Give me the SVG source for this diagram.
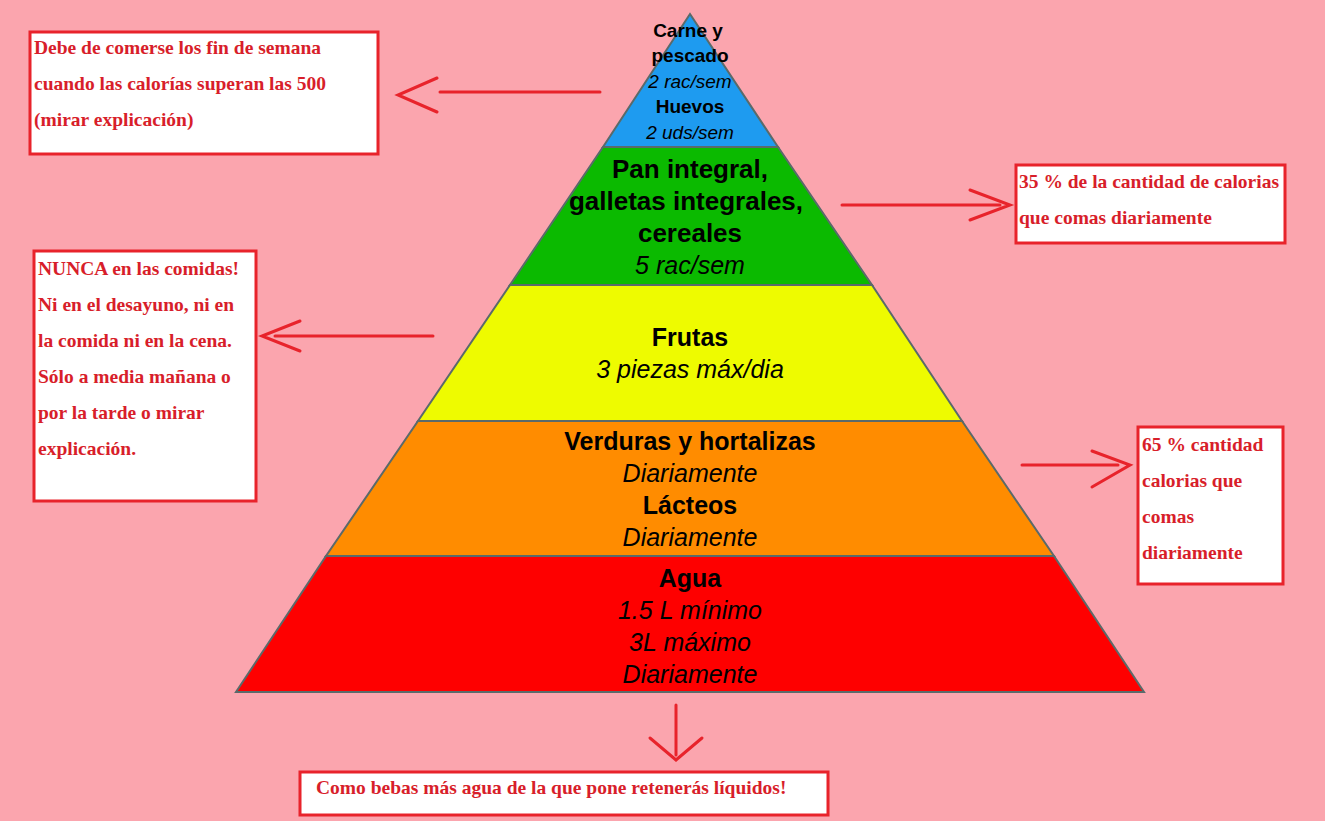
<svg xmlns="http://www.w3.org/2000/svg" width="1325" height="821" viewBox="0 0 1325 821">
<style>
.b{font-family:"Liberation Sans",Arial,sans-serif;font-weight:bold;fill:#000;text-anchor:middle}
.i{font-family:"Liberation Sans",Arial,sans-serif;font-style:italic;fill:#000;text-anchor:middle}
.box{fill:#fff;stroke:#e8232b;stroke-width:3}
.n{font-family:"Liberation Serif","Times New Roman",serif;fill:#d81e2a;font-size:19.5px;font-weight:bold}
.ar{fill:none;stroke:#e8232b;stroke-width:3;stroke-linecap:round}
.lv{stroke:#5a6a6a;stroke-width:2}
</style>
<rect width="1325" height="821" fill="#fba5ae"/>
<g id="level-red"><polygon class="lv" points="326,556 1054,556 1144,692 236,692" fill="#fe0000"/>
<text class="b" x="690" y="587" font-size="25">Agua</text>
<text class="i" x="690" y="619" font-size="25">1.5 L mínimo</text>
<text class="i" x="690" y="651" font-size="25">3L máximo</text>
<text class="i" x="690" y="683" font-size="25">Diariamente</text></g>
<g id="level-orange"><polygon class="lv" points="418,421 962,421 1054,556 326,556" fill="#ff8c00"/>
<text class="b" x="690" y="450" font-size="25">Verduras y hortalizas</text>
<text class="i" x="690" y="482" font-size="25">Diariamente</text>
<text class="b" x="690" y="514" font-size="25">Lácteos</text>
<text class="i" x="690" y="546" font-size="25">Diariamente</text></g>
<g id="level-yellow"><polygon class="lv" points="510,285 872,285 962,421 418,421" fill="#eefb00"/>
<text class="b" x="690" y="346" font-size="25">Frutas</text>
<text class="i" x="690" y="378" font-size="25">3 piezas máx/dia</text></g>
<g id="level-green"><polygon class="lv" points="603,147 778,147 872,285 510,285" fill="#0bba00"/>
<text class="b" x="690" y="178" font-size="26">Pan integral,</text>
<text class="b" x="686" y="210" font-size="26">galletas integrales,</text>
<text class="b" x="690" y="242" font-size="26">cereales</text>
<text class="i" x="690" y="274" font-size="25">5 rac/sem</text></g>
<g id="level-blue"><polygon class="lv" points="690,14 778,147 603,147" fill="#1e9bf0"/>
<text class="b" x="688" y="37" font-size="19">Carne y</text>
<text class="b" x="690" y="62" font-size="19">pescado</text>
<text class="i" x="690" y="88" font-size="19">2 rac/sem</text>
<text class="b" x="690" y="113" font-size="19">Huevos</text>
<text class="i" x="690" y="139" font-size="19">2 uds/sem</text></g>
<g id="note1"><rect class="box" x="30" y="32" width="348" height="122"/>
<text class="n" x="34" y="54">Debe de comerse los fin de semana</text>
<text class="n" x="34" y="90">cuando las calorías superan las 500</text>
<text class="n" x="34" y="126">(mirar explicación)</text></g>
<g id="note2"><rect class="box" x="1016" y="165" width="269" height="78"/>
<text class="n" x="1019" y="188">35 % de la cantidad de calorias</text>
<text class="n" x="1019" y="224">que comas diariamente</text></g>
<g id="note3"><rect class="box" x="34" y="251" width="222" height="250"/>
<text class="n" x="38" y="275">NUNCA en las comidas!</text>
<text class="n" x="38" y="311">Ni en el desayuno, ni en</text>
<text class="n" x="38" y="347">la comida ni en la cena.</text>
<text class="n" x="38" y="383">Sólo a media mañana o</text>
<text class="n" x="38" y="419">por la tarde o mirar</text>
<text class="n" x="38" y="455">explicación.</text></g>
<g id="note4"><rect class="box" x="1138" y="427" width="145" height="157"/>
<text class="n" x="1142" y="451">65 % cantidad</text>
<text class="n" x="1142" y="487">calorias que</text>
<text class="n" x="1142" y="523">comas</text>
<text class="n" x="1142" y="559">diariamente</text></g>
<g id="note5"><rect class="box" x="300" y="772" width="528" height="43"/>
<text class="n" x="316" y="794">Como bebas más agua de la que pone retenerás líquidos!</text></g>
<g id="connectors">
<path class="ar" d="M600,92 H440 M437,78 L398,95 L437,112"/>
<path class="ar" d="M842,205 H1000 M970,190 L1010,205 L970,220"/>
<path class="ar" d="M433,336 H275 M300,321 L262,336 L300,351"/>
<path class="ar" d="M1022,465 H1118 M1092,451 L1130,465 L1092,487"/>
<path class="ar" d="M676,705 V755 M650,738 L676,760 L702,738"/>
</g>
</svg>
